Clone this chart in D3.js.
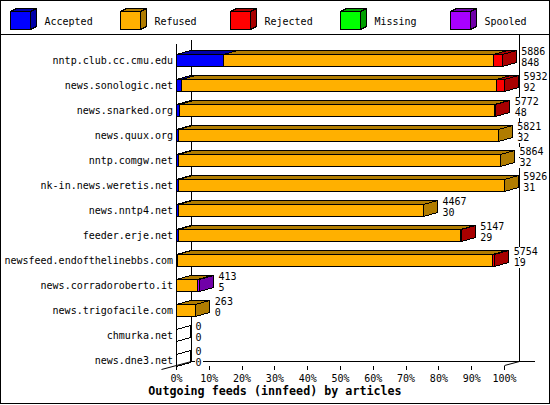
<!DOCTYPE html>
<html>
<head>
<meta charset="utf-8">
<script src="https://cdn.jsdelivr.net/npm/d3@7"></script>
<style>
  body { margin: 0; background: #fff; }
  svg { display: block; font-family: "DejaVu Sans Mono", monospace; }
</style>
</head>
<body>
<div id="chart"></div>
<script>
// hosts, top to bottom
const hosts = ["nntp.club.cc.cmu.edu", "news.sonologic.net", "news.snarked.org", "news.quux.org",
  "nntp.comgw.net", "nk-in.news.weretis.net", "news.nntp4.net", "feeder.erje.net",
  "newsfeed.endofthelinebbs.com", "news.corradoroberto.it", "news.trigofacile.com",
  "chmurka.net", "news.dne3.net"];
// numbers printed after each bar
const offered  = [5886, 5932, 5772, 5821, 5864, 5926, 4467, 5147, 5754, 413, 263, 0, 0];
const accepted = [848, 92, 48, 32, 32, 31, 30, 29, 19, 5, 0, 0, 0];
// bar segments (%)
const pctAccepted = [14.3, 1.6, 0.8, 0.5, 0.5, 0.5, 0.5, 0.5, 0.3, 0.1, 0, 0, 0];
const pctRefused  = [82.3, 95.9, 96.2, 97.6, 98.3, 99.4, 74.8, 86.0, 95.9, 6.3, 5.9, 0, 0];
const pctRejected = [2.7, 2.5, 0.3, 0, 0, 0, 0, 0.3, 0.8, 0, 0, 0, 0];
const pctMissing  = [0, 0, 0, 0, 0, 0, 0, 0, 0, 0, 0, 0, 0];
const pctSpooled  = [0, 0, 0, 0, 0, 0, 0, 0, 0, 0.6, 0, 0, 0];
const seriesNames = ["Accepted", "Refused", "Rejected", "Missing", "Spooled"];
const tickValues = [0, 10, 20, 30, 40, 50, 60, 70, 80, 90, 100];

const colors = {
  Accepted: ["#0000ff", "#0000a8"],
  Refused:  ["#ffb000", "#b07c00"],
  Rejected: ["#ff0000", "#a80000"],
  Missing:  ["#00ff00", "#00a000"],
  Spooled:  ["#a800ff", "#7000a8"]
};

function createChart(divId, w, h) {
  var svg = d3.select(divId).append("svg")
    .attr("width", w)
    .attr("height", h)
    .attr("shape-rendering", "crispEdges");

  const dx = 14, dy = 4;   // depth of the 3d bars
  const series = [pctAccepted, pctRefused, pctRejected, pctMissing, pctSpooled];

  var xScale = d3.scaleLinear().domain([0, 100]).range([176.5, 504.5]);
  var yScale = d3.scaleBand().domain(hosts)
    .range([44, 365.5])
    .paddingInner(0.52)
    .paddingOuter(0.19)
    .align(1);
  const bh = yScale.bandwidth();
  const x0 = xScale(0), x1 = xScale(100);
  const yTop = 44, yBot = yScale(hosts[hosts.length - 1]) + bh;

  // frame
  svg.append("rect")
    .attr("x", 0.5).attr("y", 0.5)
    .attr("width", w - 1).attr("height", h - 2)
    .attr("fill", "none").attr("stroke", "black");
  svg.append("line")
    .attr("x1", 0).attr("x2", w).attr("y1", 34.5).attr("y2", 34.5)
    .attr("stroke", "black");

  // legend
  var legend = svg.append("g").selectAll("g")
    .data(seriesNames)
    .enter().append("g")
    .attr("transform", (d, i) => "translate(" + (10.5 + i * 110) + ",11.5)");
  legend.append("polygon")
    .attr("points", "0,0 6,-3 26,-3 20,0")
    .attr("fill", d => colors[d][1]).attr("stroke", "black");
  legend.append("polygon")
    .attr("points", "20,0 26,-3 26,15 20,18")
    .attr("fill", d => colors[d][1]).attr("stroke", "black");
  legend.append("rect")
    .attr("width", 20).attr("height", 18)
    .attr("fill", d => colors[d][0]).attr("stroke", "black");
  legend.append("text")
    .attr("x", 34).attr("y", 13.5)
    .attr("font-size", "10px")
    .text(d => d);

  // walls and floor
  var walls = svg.append("g").attr("stroke", "black").attr("fill", "none");
  walls.append("line").attr("x1", x0).attr("x2", x0).attr("y1", yTop).attr("y2", yBot);
  walls.append("line").attr("x1", x0 + dx + 1).attr("x2", x0 + dx + 1).attr("y1", yTop - dy).attr("y2", yBot - dy);
  walls.append("line").attr("x1", x1 + dx + 1).attr("x2", x1 + dx + 1).attr("y1", 35).attr("y2", yBot - dy);
  walls.append("line").attr("x1", x0 + dx + 1).attr("x2", 535).attr("y1", yBot - dy).attr("y2", yBot - dy);
  walls.append("line").attr("x1", x0 - 15).attr("y1", yBot + 4).attr("x2", x0 + dx + 1).attr("y2", yBot - dy)
    .attr("shape-rendering", "auto");
  walls.append("line").attr("x1", x1).attr("y1", yBot).attr("x2", x1 + dx + 1).attr("y2", yBot - dy)
    .attr("shape-rendering", "auto");

  // x axis ticks
  var xAxis = svg.append("g");
  xAxis.selectAll("line")
    .data(tickValues)
    .enter().append("line")
    .attr("x1", d => xScale(d)).attr("x2", d => xScale(d))
    .attr("y1", yBot).attr("y2", yBot + 4)
    .attr("stroke", "black");
  xAxis.selectAll("text")
    .data(tickValues)
    .enter().append("text")
    .attr("x", d => xScale(d)).attr("y", 381.5)
    .attr("text-anchor", "middle")
    .attr("font-size", "10px")
    .text(d => d + "%");

  // category labels
  svg.append("g").selectAll("text")
    .data(hosts)
    .enter().append("text")
    .attr("x", 173).attr("y", d => yScale(d) + 10)
    .attr("text-anchor", "end")
    .attr("font-size", "10px")
    .text(d => d);

  // bars
  var bars = svg.append("g");
  hosts.forEach((host, i) => {
    const y = Math.round(yScale(host)) + 0.5;
    const b = Math.round(bh);
    let acc = 0, lastK = -1, lastStart = 0;
    var g = bars.append("g");
    series.forEach((s, k) => {
      const v = s[i];
      if (v <= 0) return;
      const a = Math.round(xScale(acc) - 0.5) + 0.5, e = Math.round(xScale(acc + v) - 0.5) + 0.5;
      g.append("polygon")
        .attr("points", [[a, y], [a + dx, y - dy], [e + dx, y - dy], [e, y]].join(" "))
        .attr("fill", colors[seriesNames[k]][1]).attr("stroke", "black");
      g.append("rect")
        .attr("x", a).attr("y", y).attr("width", e - a).attr("height", b)
        .attr("fill", colors[seriesNames[k]][0]).attr("stroke", "black");
      acc += v;
      lastK = k;
    });
    const e = Math.round(xScale(acc) - 0.5) + 0.5;
    g.append("polygon")
      .attr("points", [[e, y], [e + dx, y - dy], [e + dx, y + b - dy], [e, y + b]].join(" "))
      .attr("fill", lastK < 0 ? "none" : colors[seriesNames[lastK]][1])
      .attr("stroke", "black");

    // value labels
    [offered[i], accepted[i]].forEach((val, j) => {
      const tx = xScale(acc) + 19, ty = y + j * 11;
      const label = String(val);
      g.append("rect")
        .attr("x", tx - 1).attr("y", ty - 8)
        .attr("width", label.length * 6 + 2).attr("height", 10)
        .attr("fill", "white");
      g.append("text")
        .attr("x", tx).attr("y", ty)
        .attr("font-size", "10px")
        .text(label);
    });
  });

  // title
  svg.append("text")
    .attr("x", w / 2).attr("y", 394.5)
    .attr("text-anchor", "middle")
    .attr("font-size", "11.7px")
    .attr("font-weight", "bold")
    .text("Outgoing feeds (innfeed) by articles");
}

createChart("#chart", 550, 405);
</script>
</body>
</html>
